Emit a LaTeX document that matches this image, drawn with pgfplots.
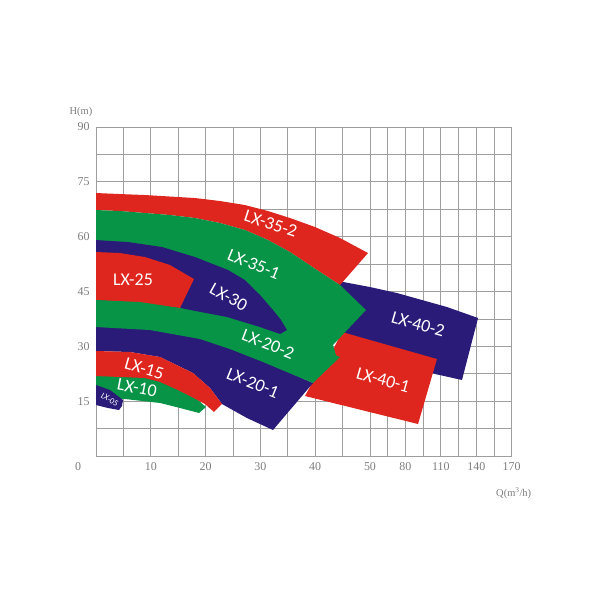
\documentclass[border=0pt]{standalone}
\usepackage{pgfplots}
\pgfplotsset{compat=1.18}
\usepackage{fontspec}
\setmainfont{Liberation Serif}
\newfontfamily\lblfont{Carlito}
\definecolor{cred}{RGB}{222,38,30}
\definecolor{cgreen}{RGB}{8,148,70}
\definecolor{cnavy}{RGB}{42,27,120}
\definecolor{tickgray}{RGB}{125,125,125}
\tikzset{lbl/.style={text=white, font=\lblfont\fontsize{18}{18}\selectfont, inner sep=0pt}}
\begin{document}
\begin{tikzpicture}
\path (0,0) rectangle (600bp,600bp);
\begin{axis}[
  at={(96bp,144bp)}, anchor=south west,
  scale only axis, width=415.7bp, height=329bp,
  xmin=0, xmax=170, ymin=0, ymax=90,
  clip=false,
  x coord trafo/.code={\pgfmathparse{min(#1,50)+max(#1-50,0)*0.2155}},
  x coord inv trafo/.code={\pgfmathparse{min(#1,50)+max(#1-50,0)/0.2155}},
  xtick={0,5,10,15,20,25,30,35,40,45,50,65,80,95,110,125,140,155,170},
  xticklabels={,,10,,20,,30,,40,,50,,80,,110,,140,,170},
  ytick={0,7.5,15,22.5,30,37.5,45,52.5,60,67.5,75,82.5,90},
  yticklabels={,,15,,30,,45,,60,,75,,90},
  grid=major, major grid style={draw=black!38, line width=0.7bp},
  axis line style={draw=black!38, line width=0.7bp},
  major tick length=0pt,
  tick label style={font=\fontsize{12}{12}\selectfont, text=tickgray},
  xticklabel style={yshift=-3bp},
  yticklabel style={xshift=-3bp},
]
% LX-40-2
\addplot[fill=cnavy, draw=none, mark=none] coordinates {
(44.16,47.87) (50,46.22) (72.9,44.58) (115.2,40.75) (141.5,37.75) (127.9,20.79) (105.1,22.43) (75.4,25.71) (46.35,30.36) (44.89,33.1) (44.16,42.67)};
% LX-40-1
\addplot[fill=cred, draw=none, mark=none] coordinates {
(44.89,33.92) (50,31.73) (106.7,26.53) (90.7,8.75) (50,12.0) (38.14,16.41) (41.24,24.89) (43.43,29.54)};
% LX-35-2
\addplot[fill=cred, draw=none, mark=none] coordinates {
(0,71.94) (4.38,71.66) (8.94,71.39) (13.5,70.98) (18.07,70.57) (22.63,69.75) (27.19,68.65) (31.39,67.01) (35.4,65.1) (39.96,62.64) (44.53,59.63) (49.64,55.52)
(44.53,46.77) (40.88,50.33) (35.4,55.8) (31.39,59.08) (27.19,61.82) (22.63,63.73) (18.07,65.1) (13.5,65.92) (8.94,66.47) (4.38,67.01) (0,67.29)};
% LX-35-1
\addplot[fill=cgreen, draw=none, mark=none] coordinates {
(0,67.29) (4.38,67.01) (8.94,66.47) (13.5,65.92) (18.07,65.1) (22.63,63.73) (27.19,61.82) (31.39,59.08) (35.4,55.8) (40.88,50.33) (44.53,46.77)
(49.27,39.93) (43.25,30.36) (43.8,27.6) (34.12,30.36) (24.45,34.46) (0,39.66)};
% LX-30
\addplot[fill=cnavy, draw=none, mark=none] coordinates {
(0,59.08) (5.84,58.53) (12.04,57.17) (18.07,54.43) (24.09,50.88) (27.19,48.14) (29.93,44.04) (32.3,39.93) (33.76,37.2) (34.85,34.46)
(33.58,33.37) (29.93,35.28) (23.91,38.02) (15.33,40.48) (8.03,41.85) (0,42.67)};
% LX-25
\addplot[fill=cred, draw=none, mark=none] coordinates {
(0,55.8) (4.38,55.52) (8.94,54.43) (13.5,52.24) (17.88,48.41) (15.33,40.48) (8.03,41.85) (0,42.67)};
% LX-20-1
\addplot[fill=cnavy, draw=none, mark=none] coordinates {
(0,35.6) (9.85,34.8) (18.98,32.3) (24.45,29.6) (30.47,26.0) (39.6,19.97) (32.3,7.11)
(27.55,10.39) (22.99,14.22) (20.8,18.6) (17.7,22.7) (11.68,27.08) (6.2,28.45) (0,28.72)};
% LX-20-2
\addplot[fill=cgreen, draw=none, mark=none] coordinates {
(0,42.67) (8.03,42.12) (15.33,40.48) (24.45,37.2) (34.12,33.1) (44.53,27.08) (39.6,19.97)
(30.47,25.71) (24.45,29.27) (18.98,32.0) (9.85,34.46) (0,35.28)};
% LX-10
\addplot[fill=cgreen, draw=none, mark=none] coordinates {
(0,22.4) (8.94,21.9) (14.96,18.7) (18.25,15.8) (20.07,13.4) (18.8,11.76)
(15.33,13.13) (11.68,14.5) (5.29,15.59) (0,16.14)};
% LX-15
\addplot[fill=cred, draw=none, mark=none] coordinates {
(0,28.72) (6.2,28.45) (11.68,27.08) (17.7,22.7) (20.8,18.6) (22.99,14.22) (21.53,12.04)
(19.89,14.22) (17.15,16.41) (14.96,18.05) (11.68,20.24) (8.94,21.33) (0,21.88)};
% LX-05
\addplot[fill=cnavy, draw=none, mark=none] coordinates {
(0,19.42) (2.55,18.05) (4.93,15.32) (4.74,13.68) (4.2,12.58) (2.19,13.13) (0,13.95)};

\node[lbl, rotate=-18] at (axis cs:31.9,63.5) {LX-35-2};
\node[lbl, rotate=-22] at (axis cs:28.8,52.5) {LX-35-1};
\node[lbl] at (axis cs:6.75,48.1) {LX-25};
\node[lbl, rotate=-29] at (axis cs:24.2,43.5) {LX-30};
\node[lbl, rotate=-16] at (axis cs:90.7,36.1) {LX-40-2};
\node[lbl, rotate=-21] at (axis cs:31.4,30.6) {LX-20-2};
\node[lbl, rotate=-16] at (axis cs:61.0,20.8) {LX-40-1};
\node[lbl, rotate=-22] at (axis cs:28.6,20.0) {LX-20-1};
\node[lbl, rotate=-16] at (axis cs:8.8,23.9) {LX-15};
\node[lbl, rotate=-11] at (axis cs:7.5,18.6) {LX-10};
\node[text=white, font=\lblfont\fontsize{8.5}{8.5}\selectfont, inner sep=0pt, rotate=-32] at (axis cs:2.5,15.4) {LX-05};

\node[text=tickgray, font=\fontsize{12}{12}\selectfont, xshift=-18bp, yshift=-11bp] at (rel axis cs:0,0) {0};
\node[text=tickgray, font=\fontsize{10.5}{10.5}\selectfont, xshift=-15bp, yshift=15bp] at (rel axis cs:0,1) {H(m)};
\node[text=tickgray, font=\fontsize{10.5}{10.5}\selectfont, xshift=2bp, yshift=-37bp] at (rel axis cs:1,0) {Q(m\textsuperscript{3}/h)};
\end{axis}
\end{tikzpicture}
\end{document}
